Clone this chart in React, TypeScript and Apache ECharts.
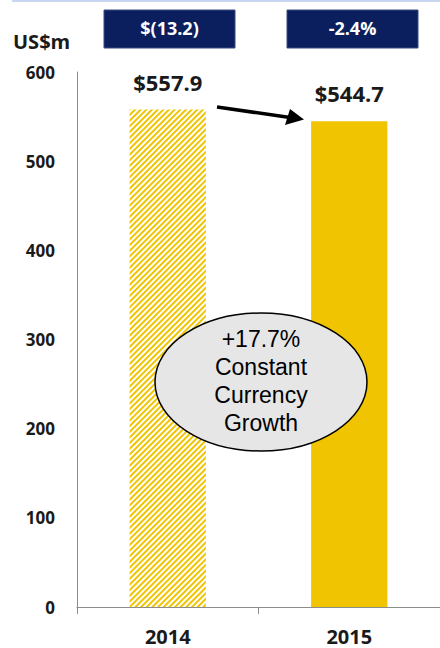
import React, { useEffect, useRef } from "react";
import * as echarts from "echarts";

const years = ["2014", "2015"];
const revenue = [557.9, 544.7];
const valueLabels = ["$557.9", "$544.7"];
const changeLabels = ["$(13.2)", "-2.4%"];
const growthNote = ["+17.7%", "Constant", "Currency", "Growth"];
const yTicks = { min: 0, max: 600, interval: 100 };

const YELLOW = "#f0c400";
const NAVY = "#0b1f5e";
const BOLD_FONT = "'Open Sans', Lato, sans-serif";

export default function App() {
  const ref = useRef<HTMLDivElement>(null);

  useEffect(() => {
    if (!ref.current) return;
    const chart = echarts.init(ref.current, undefined, { renderer: "svg" });

    // 2014 is drawn hatched, 2015 solid
    const data = revenue.map((v, i) =>
      i === 0
        ? {
            value: v,
            itemStyle: {
              color: "#ffffff",
              decal: {
                symbol: "rect",
                symbolSize: 1,
                dashArrayX: [1, 0],
                dashArrayY: [1.8, 1.8],
                rotation: -Math.PI / 4,
                color: YELLOW,
              },
            },
          }
        : { value: v, itemStyle: { color: YELLOW } }
    );

    chart.setOption({
      animation: false,
      grid: { left: 77, right: 0, top: 72, bottom: 41, containLabel: false },
      xAxis: {
        type: "category",
        data: years,
        boundaryGap: true,
        axisLine: { lineStyle: { color: "#8c8c8c", width: 1 } },
        axisTick: { show: true, length: 7, lineStyle: { color: "#8c8c8c" } },
        axisLabel: {
          color: "#1a1a1a",
          fontFamily: BOLD_FONT,
          fontWeight: "bold",
          fontSize: 20,
          lineHeight: 20,
          margin: 19,
        },
      },
      yAxis: {
        type: "value",
        min: yTicks.min,
        max: yTicks.max,
        interval: yTicks.interval,
        splitLine: { show: false },
        axisLine: { show: true, lineStyle: { color: "#8c8c8c", width: 1 } },
        axisTick: { show: false },
        axisLabel: {
          color: "#1a1a1a",
          fontFamily: BOLD_FONT,
          fontWeight: "bold",
          fontSize: 17,
          margin: 22,
        },
      },
      series: [
        {
          type: "bar",
          data,
          barWidth: "42%",
          label: {
            show: true,
            position: "top",
            distance: 17,
            color: "#1a1a1a",
            fontFamily: BOLD_FONT,
            fontWeight: "bold",
            fontSize: 22,
            lineHeight: 22,
            formatter: (p: any) => valueLabels[p.dataIndex],
          },
        },
      ],
      graphic: [
        {
          type: "line",
          z: 10,
          shape: { x1: 12, y1: 1, x2: 440, y2: 1 },
          style: { stroke: "#c9d8f0", lineWidth: 2 },
        },
        {
          type: "text",
          z: 10,
          x: 13,
          y: 41,
          style: {
            text: "US$m",
            fill: "#1a1a1a",
            font: `bold 20px ${BOLD_FONT}`,
            verticalAlign: "middle",
          },
        },
        ...changeLabels.flatMap((t, i) => {
          const x = i === 0 ? 104 : 287;
          return [
            {
              type: "rect",
              z: 10,
              shape: { x, y: 10, width: 131, height: 38 },
              style: { fill: NAVY, stroke: "#3a4d80", lineWidth: 1 },
            },
            {
              type: "text",
              z: 11,
              x: x + 65.5,
              y: 28,
              style: {
                text: t,
                fill: "#ffffff",
                font: `bold 18px ${BOLD_FONT}`,
                align: "center",
                verticalAlign: "middle",
              },
            },
          ];
        }),
        // arrow from the 2014 value to the 2015 value
        {
          type: "line",
          z: 10,
          shape: { x1: 217, y1: 107, x2: 290, y2: 117.5 },
          style: { stroke: "#000000", lineWidth: 3.5 },
        },
        {
          type: "polygon",
          z: 10,
          shape: {
            points: [
              [304, 119.5],
              [285, 125],
              [290, 109],
            ],
          },
          style: { fill: "#000000" },
        },
        {
          type: "ellipse",
          z: 10,
          shape: { cx: 261, cy: 382, rx: 106, ry: 69 },
          style: { fill: "#e6e6e6", stroke: "#000000", lineWidth: 1.5 },
        },
        {
          type: "text",
          z: 11,
          x: 261,
          y: 381,
          style: {
            text: growthNote.join("\n"),
            fill: "#000000",
            font: "23px 'Liberation Sans', Arial, sans-serif",
            lineHeight: 28,
            align: "center",
            verticalAlign: "middle",
          },
        },
      ],
    });

    return () => chart.dispose();
  }, []);

  return (
    <div
      ref={ref}
      style={{ position: "fixed", left: 0, top: 0, width: 440, height: 648, background: "#fff" }}
    />
  );
}
